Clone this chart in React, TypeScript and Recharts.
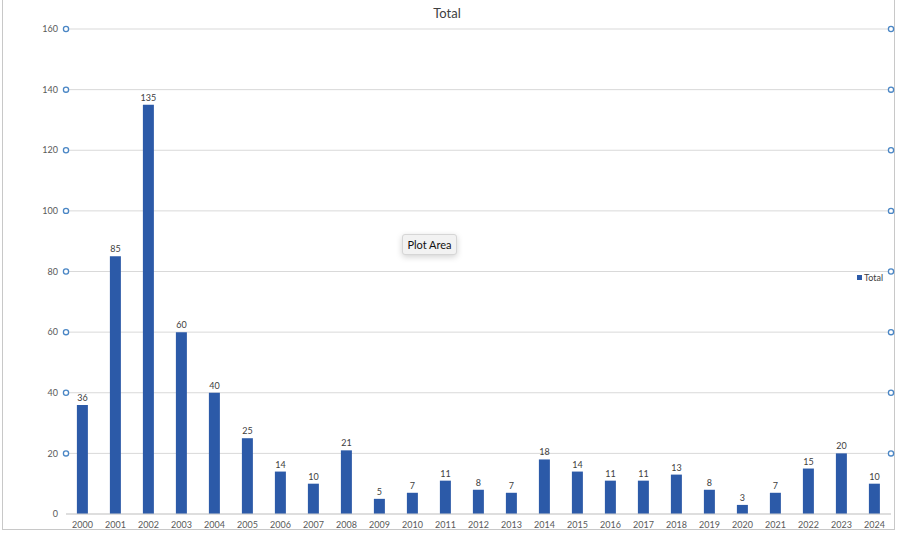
import { BarChart, Bar, XAxis, YAxis, CartesianGrid, LabelList } from 'recharts'

const years = [
  '2000', '2001', '2002', '2003', '2004', '2005', '2006', '2007', '2008', '2009',
  '2010', '2011', '2012', '2013', '2014', '2015', '2016', '2017', '2018', '2019',
  '2020', '2021', '2022', '2023', '2024',
]
const totals = [36, 85, 135, 60, 40, 25, 14, 10, 21, 5, 7, 11, 8, 7, 18, 14, 11, 11, 13, 8, 3, 7, 15, 20, 10]
const yTicks = [0, 20, 40, 60, 80, 100, 120, 140, 160]

const data = years.map((year, i) => ({ year, Total: totals[i] }))

const FONT = 'Lato, "Open Sans", sans-serif'
const BAR = '#2c5aa8'
const HANDLE = '#4a86c5'
const W = 900
const H = 535
const LEFT = 66
const RIGHT = 9
const PLOT_W = W - LEFT - RIGHT

// selection handles on both edges of the plot area, as in the Excel screenshot
function LeftTick(props: any) {
  const { x, y, payload } = props
  return (
    <g>
      <text x={x - 8} y={y} dy="0.35em" textAnchor="end" fontSize={9} fill="#595959" fontFamily={FONT}>
        {payload.value}
      </text>
      {payload.value !== 0 && (
        <>
          <circle cx={x} cy={y} r={2.6} fill="#fff" stroke={HANDLE} strokeWidth={1.3} />
          <circle cx={x + PLOT_W} cy={y} r={2.6} fill="#fff" stroke={HANDLE} strokeWidth={1.3} />
        </>
      )}
    </g>
  )
}

export default function App() {
  return (
    <div style={{ position: 'absolute', left: 0, top: 0, width: W, height: H, background: '#fff' }}>
      <div
        style={{
          position: 'absolute', left: 2, top: -1, width: 891, height: 530,
          borderLeft: '1px solid #c8c8c8', borderRight: '1px solid #c8c8c8', borderBottom: '1px solid #c8c8c8',
        }}
      />
      <div
        style={{
          position: 'absolute', left: 0, top: 5, width: 894, textAlign: 'center',
          fontSize: 13, color: '#404040', fontFamily: FONT,
        }}
      >
        Total
      </div>
      <BarChart
        width={W}
        height={H}
        data={data}
        margin={{ top: 29, right: RIGHT, left: 0, bottom: 0 }}
        barCategoryGap="33%"
      >
        <CartesianGrid stroke="#d9d9d9" vertical={false} />
        <XAxis
          dataKey="year"
          height={21}
          tickSize={0}
          tickMargin={8}
          interval={0}
          axisLine={{ stroke: '#d0d0d0' }}
          tick={{ fontSize: 9, fill: '#595959', fontFamily: FONT }}
        />
        <YAxis
          width={LEFT}
          domain={[0, 160]}
          ticks={yTicks}
          tickSize={0}
          tickMargin={0}
          axisLine={false}
          tickLine={false}
          tick={<LeftTick />}
        />
        <Bar dataKey="Total" fill={BAR} isAnimationActive={false}>
          <LabelList dataKey="Total" position="top" offset={4} fontSize={9} fill="#404040" fontFamily={FONT} />
        </Bar>
      </BarChart>
      <div
        style={{
          position: 'absolute', left: 857, top: 272, display: 'flex', alignItems: 'center',
          fontSize: 9, color: '#404040', fontFamily: FONT,
        }}
      >
        <span style={{ width: 5, height: 5, background: BAR, display: 'inline-block', marginRight: 2 }} />
        Total
      </div>
      <div
        style={{
          position: 'absolute', left: 402, top: 234, width: 53, height: 19,
          background: '#f2f2f2', border: '1px solid #d6d6d6', borderRadius: 3,
          boxShadow: '0 2px 6px rgba(0,0,0,.18)', fontSize: 11, color: '#111',
          fontFamily: FONT, display: 'flex', alignItems: 'center', justifyContent: 'center',
        }}
      >
        Plot Area
      </div>
    </div>
  )
}
